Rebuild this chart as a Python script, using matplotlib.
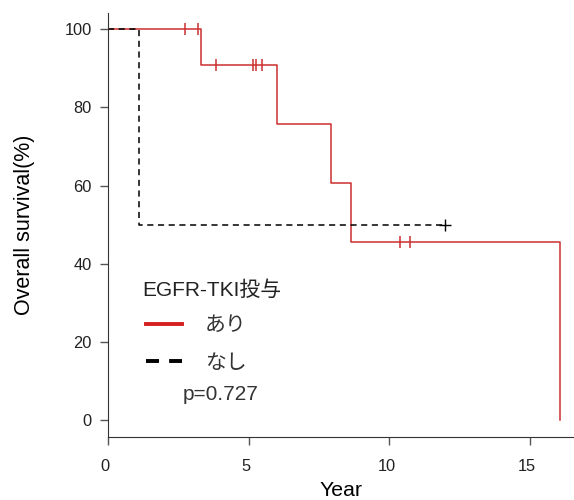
import matplotlib
matplotlib.use("Agg")
import matplotlib.pyplot as plt
import matplotlib.transforms as mtransforms
from matplotlib.lines import Line2D

plt.rcParams['font.family'] = ['Liberation Sans', 'Noto Sans CJK JP']

# Kaplan-Meier steps
ari_time = [0, 3.31, 5.99, 7.92, 8.65, 16.07]
ari_surv = [100, 90.9, 75.8, 60.6, 45.5, 0]
ari_cens_time = [2.72, 3.18, 3.82, 5.16, 5.27, 5.48, 10.37, 10.75]
ari_cens_surv = [100, 100, 90.9, 90.9, 90.9, 90.9, 45.5, 45.5]

nashi_time = [0, 1.09, 11.97]
nashi_surv = [100, 50, 50]
nashi_cens_time = [11.97]
nashi_cens_surv = [50]

x_ticks = [0, 5, 10, 15]
y_ticks = [0, 20, 40, 60, 80, 100]

red = '#cc2f2f'

fig = plt.figure(figsize=(5.74, 5.0), dpi=100)
ax = fig.add_axes([0.1887, 0.127, 0.8113, 0.847])

ax.step(ari_time, ari_surv, where='post', color=red, lw=1.1)
ax.plot(ari_cens_time, ari_cens_surv, ls='none', marker='|', ms=8, mew=1.1, color=red)
ax.step(nashi_time, nashi_surv, where='post', color='black', lw=1.1, ls=(0, (4, 3)))
ax.plot(nashi_cens_time, nashi_cens_surv, ls='none', marker='+', ms=9, mew=1.0, color='black')

ax.set_xlim(0, 16.57)
ax.set_ylim(-4.1, 104.1)
ax.set_xticks(x_ticks)
ax.set_yticks(y_ticks)
ax.spines['top'].set_visible(False)
ax.spines['right'].set_visible(False)
ax.spines['left'].set_color('#333333')
ax.spines['bottom'].set_color('#333333')
ax.tick_params(axis='both', length=6, width=1, color='#555555', labelsize=11.8, labelcolor='#222222')
ax.tick_params(axis='x', pad=10)
ax.tick_params(axis='y', pad=6)
shift = mtransforms.ScaledTranslation(-3 / 100, 0, fig.dpi_scale_trans)
for lab in ax.get_xticklabels():
    lab.set_transform(lab.get_transform() + shift)

ax.set_xlabel('Year', fontsize=15.3, labelpad=5)
ax.set_ylabel('Overall survival(%)', fontsize=15.5)
ax.yaxis.set_label_coords(-0.158, 0.5)

# legend block
ax.text(0.073, 0.345, 'EGFR-TKI投与', transform=ax.transAxes, fontsize=15,
        va='center', color='#222222')
handles = [Line2D([], [], color='#d42020', lw=2.8),
           Line2D([], [], color='black', lw=2.8, ls=(0, (3.35, 2.6)))]
leg = ax.legend(handles, ['あり', 'なし'], loc='upper left',
                bbox_to_anchor=(0.0815, 0.285), frameon=False, fontsize=15,
                handlelength=1.73, handletextpad=1.1,
                labelspacing=0.91, borderpad=0, borderaxespad=0)
for t in leg.get_texts():
    t.set_color('#333333')
ax.text(0.159, 0.099, 'p=0.727', transform=ax.transAxes, fontsize=15,
        va='center', color='#333333')

fig.savefig('out.png', dpi=100)
